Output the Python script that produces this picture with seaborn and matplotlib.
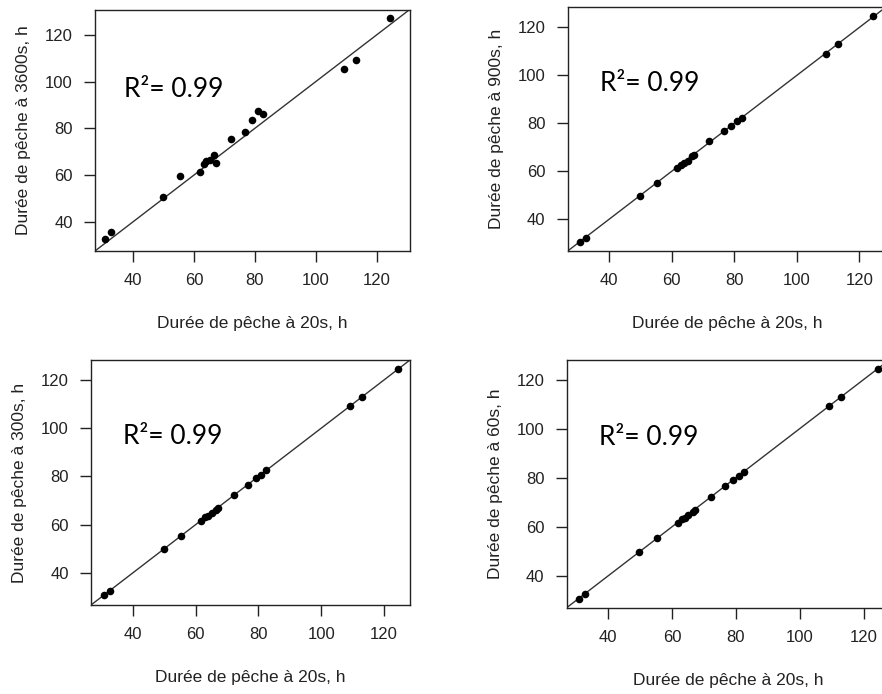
import matplotlib
matplotlib.use("Agg")
import matplotlib.pyplot as plt
import seaborn as sns
import pandas as pd

# Durée de pêche à 20s (h) – common x values
x20 = [30.7, 32.6, 49.8, 55.4, 61.8, 63.1, 64.0, 65.1, 66.5, 67.2,
       72.1, 76.6, 79.1, 80.9, 82.5, 109.2, 113.1, 124.4]
y3600 = [32.4, 35.4, 50.4, 59.4, 61.4, 64.5, 66.1, 66.4, 68.5, 65.3,
         75.4, 78.3, 83.4, 87.2, 86.3, 105.3, 109.3, 127.4]
y900 = [30.6, 32.2, 49.9, 55.3, 61.3, 62.8, 63.5, 64.2, 66.4, 66.7,
        72.8, 77.0, 79.0, 81.1, 82.4, 108.9, 113.1, 124.7]
y300 = [30.9, 32.7, 49.9, 55.4, 61.7, 63.0, 63.7, 64.7, 66.2, 66.8,
        72.3, 76.6, 79.3, 80.7, 82.8, 109.2, 113.0, 124.7]
y60 = [30.6, 32.5, 49.9, 55.3, 61.7, 63.1, 63.7, 64.8, 66.2, 66.8,
       72.0, 76.6, 79.1, 80.8, 82.4, 109.2, 113.0, 124.3]

ylabels = ["Durée de pêche à 3600s, h", "Durée de pêche à 900s, h",
           "Durée de pêche à 300s, h", "Durée de pêche à 60s, h"]
xlabel = "Durée de pêche à 20s, h"
r2_text = "R²= 0.99"
ticks = [40, 60, 80, 100, 120]

sns.set_style("white")
plt.rcParams["font.family"] = ["Liberation Sans", "DejaVu Sans"]

W, H = 882, 694
fig = plt.figure(figsize=(W / 100, H / 100), dpi=100)

# panel boxes in pixels: left, top, right, bottom ; limits
panels = [
    ((95, 10, 410, 251), (27.4, 131.0), (27.4, 130.7), y3600, ylabels[0]),
    ((567.7, 7, 886, 251), (26.8, 128.5), (26.8, 128.5), y900, ylabels[1]),
    ((91, 360, 410, 605), (26.7, 128.3), (26.7, 128.3), y300, ylabels[2]),
    ((566.7, 360, 890, 607.7), (27.0, 128.3), (27.0, 128.0), y60, ylabels[3]),
]

for (l, t, r, b), xl, yl, yvals, ylab in panels:
    ax = fig.add_axes([l / W, 1 - b / H, (r - l) / W, (b - t) / H])
    df = pd.DataFrame({"x": x20, "y": yvals})
    ax.axline((40, 40), slope=1, color="#333333", lw=1.0, zorder=1)
    sns.scatterplot(data=df, x="x", y="y", ax=ax, color="black", s=30,
                    linewidth=0, zorder=3, legend=False)
    ax.set_xlim(*xl)
    ax.set_ylim(*yl)
    ax.set_xticks(ticks)
    ax.set_yticks(ticks)
    ax.tick_params(axis="both", direction="out", length=8, width=1,
                   color="#222222", labelsize=12, labelcolor="#222222",
                   pad=8, bottom=True, left=True)
    for sp in ax.spines.values():
        sp.set_visible(True)
        sp.set_color("#222222")
        sp.set_linewidth(1.0)
    ax.set_xlabel(xlabel, fontsize=12.5, color="#222222", labelpad=20)
    ax.set_ylabel(ylab, fontsize=12.5, color="#222222", labelpad=10)
    ax.text(37, 93.5, r2_text, fontsize=19, family=["Lato", "DejaVu Sans"],
            color="black", va="baseline", ha="left")

fig.savefig("out.png", dpi=100)
